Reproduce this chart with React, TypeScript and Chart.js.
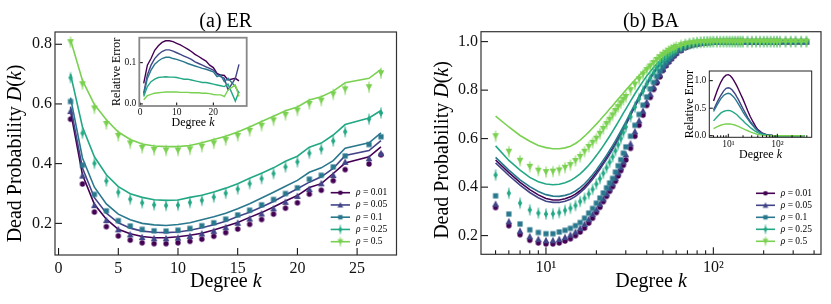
import React, { useEffect, useRef } from 'react';
import { Chart, registerables } from 'chart.js';

Chart.register(...registerables);

const W = 831;
const H = 304;
const SERIF = "'Liberation Serif', 'Times New Roman', serif";

const RHO = ['0.01', '0.05', '0.1', '0.25', '0.5'];
const COLORS = ['#440154', '#414487', '#2a788e', '#22a884', '#7ad151'];
const MARKERS = ['circle', 'triUp', 'square', 'thinDiamond', 'triDown'];

// ---------- (a) ER ----------
const kER = [1, 2, 3, 4, 5, 6, 7, 8, 9, 10, 11, 12, 13, 14, 15, 16, 17, 18, 19, 20, 21, 22, 23, 24, 26, 27];
const erSim01 = [0.549, 0.332, 0.238, 0.189, 0.158, 0.144, 0.135, 0.132, 0.132, 0.135, 0.140, 0.147, 0.157, 0.169, 0.181, 0.197, 0.213, 0.231, 0.251, 0.269, 0.298, 0.311, 0.343, 0.380, 0.399, 0.430];
const erTh01 = [0.576, 0.363, 0.264, 0.214, 0.180, 0.165, 0.156, 0.152, 0.152, 0.155, 0.160, 0.167, 0.178, 0.190, 0.203, 0.220, 0.236, 0.255, 0.275, 0.293, 0.320, 0.333, 0.367, 0.402, 0.423, 0.456];
const erSim05 = [0.576, 0.360, 0.261, 0.211, 0.180, 0.163, 0.154, 0.150, 0.150, 0.152, 0.158, 0.166, 0.175, 0.187, 0.202, 0.216, 0.233, 0.250, 0.272, 0.292, 0.315, 0.334, 0.362, 0.406, 0.418, 0.435];
const erTh05 = [0.591, 0.385, 0.286, 0.234, 0.202, 0.184, 0.174, 0.170, 0.169, 0.171, 0.177, 0.185, 0.195, 0.207, 0.223, 0.237, 0.255, 0.273, 0.295, 0.316, 0.338, 0.356, 0.384, 0.427, 0.444, 0.477];
const erSim1 = [0.608, 0.395, 0.297, 0.242, 0.209, 0.191, 0.180, 0.175, 0.174, 0.177, 0.183, 0.192, 0.202, 0.214, 0.228, 0.244, 0.262, 0.280, 0.300, 0.319, 0.348, 0.361, 0.389, 0.426, 0.464, 0.490];
const erTh1 = [0.621, 0.419, 0.321, 0.265, 0.231, 0.212, 0.200, 0.195, 0.193, 0.196, 0.202, 0.212, 0.222, 0.234, 0.249, 0.266, 0.285, 0.304, 0.324, 0.344, 0.371, 0.386, 0.410, 0.452, 0.470, 0.503];
const erSim25 = [0.688, 0.502, 0.401, 0.342, 0.304, 0.281, 0.269, 0.262, 0.260, 0.261, 0.270, 0.277, 0.288, 0.301, 0.315, 0.333, 0.350, 0.367, 0.389, 0.406, 0.435, 0.449, 0.476, 0.507, 0.549, 0.570];
const erTh25 = [0.700, 0.523, 0.423, 0.363, 0.323, 0.299, 0.287, 0.279, 0.277, 0.278, 0.287, 0.294, 0.305, 0.318, 0.333, 0.351, 0.368, 0.386, 0.408, 0.425, 0.455, 0.469, 0.496, 0.531, 0.553, 0.578];
const erSim5 = [0.807, 0.666, 0.585, 0.533, 0.493, 0.468, 0.453, 0.446, 0.444, 0.444, 0.448, 0.457, 0.468, 0.479, 0.493, 0.510, 0.527, 0.545, 0.563, 0.578, 0.600, 0.611, 0.632, 0.649, 0.656, 0.703];
const erTh5 = [0.815, 0.679, 0.598, 0.547, 0.506, 0.481, 0.466, 0.459, 0.457, 0.457, 0.461, 0.470, 0.481, 0.492, 0.506, 0.523, 0.541, 0.559, 0.577, 0.590, 0.613, 0.624, 0.643, 0.671, 0.686, 0.716];

// ER inset: relative error
const erErr01 = [0.05, 0.094, 0.11, 0.13, 0.141, 0.149, 0.153, 0.153, 0.151, 0.147, 0.143, 0.138, 0.133, 0.127, 0.12, 0.115, 0.109, 0.104, 0.094, 0.088, 0.074, 0.07, 0.069, 0.058, 0.062, 0.056];
const erErr05 = [0.026, 0.07, 0.094, 0.11, 0.12, 0.127, 0.131, 0.131, 0.128, 0.124, 0.12, 0.116, 0.112, 0.108, 0.102, 0.098, 0.094, 0.09, 0.086, 0.082, 0.072, 0.066, 0.062, 0.034, 0.062, 0.096];
const erErr1 = [0.022, 0.062, 0.082, 0.096, 0.104, 0.11, 0.113, 0.113, 0.11, 0.108, 0.105, 0.102, 0.098, 0.095, 0.092, 0.089, 0.086, 0.084, 0.081, 0.078, 0.066, 0.07, 0.054, 0.062, 0.042, 0.026];
const erErr25 = [0.018, 0.042, 0.054, 0.06, 0.064, 0.065, 0.066, 0.065, 0.065, 0.064, 0.062, 0.06, 0.06, 0.058, 0.056, 0.054, 0.052, 0.052, 0.05, 0.048, 0.046, 0.044, 0.042, 0.048, 0.007, 0.03];
const erErr5 = [0.01, 0.02, 0.023, 0.026, 0.027, 0.028, 0.029, 0.029, 0.029, 0.029, 0.028, 0.028, 0.028, 0.027, 0.027, 0.027, 0.026, 0.026, 0.025, 0.023, 0.022, 0.022, 0.018, 0.034, 0.046, 0.018];

// ---------- (b) BA ----------
const kBAHead = [5, 6, 7, 8, 9, 10, 11, 12, 13, 14, 15, 16, 17, 18, 19, 20, 21, 22, 23, 24, 25, 26, 27, 28, 29, 30, 32, 34, 36, 38, 40, 42, 44, 46, 48, 50, 52, 54, 56, 58, 60, 64, 68, 72, 76, 80, 84, 88, 92, 96, 100];
const baSim01 = [0.316, 0.241, 0.204, 0.181, 0.170, 0.166, 0.166, 0.170, 0.178, 0.187, 0.200, 0.215, 0.231, 0.252, 0.272, 0.295, 0.317, 0.340, 0.362, 0.383, 0.402, 0.424, 0.446, 0.468, 0.490, 0.512, 0.56, 0.61, 0.655, 0.697, 0.737, 0.77, 0.803, 0.83, 0.855, 0.881, 0.9, 0.915, 0.928, 0.94, 0.95, 0.963, 0.975, 0.982, 0.987, 0.99, 0.993, 0.995, 0.997, 0.998, 0.999];
const baSim05 = [0.331, 0.259, 0.220, 0.197, 0.186, 0.181, 0.181, 0.186, 0.194, 0.204, 0.216, 0.231, 0.248, 0.268, 0.289, 0.309, 0.331, 0.353, 0.374, 0.395, 0.415, 0.438, 0.46, 0.482, 0.505, 0.535, 0.58, 0.63, 0.675, 0.715, 0.752, 0.785, 0.814, 0.84, 0.865, 0.888, 0.905, 0.92, 0.932, 0.944, 0.955, 0.967, 0.978, 0.985, 0.989, 0.992, 0.994, 0.996, 0.997, 0.998, 0.999];
const baSim1 = [0.364, 0.289, 0.248, 0.224, 0.213, 0.208, 0.208, 0.215, 0.222, 0.230, 0.241, 0.254, 0.272, 0.293, 0.312, 0.334, 0.355, 0.376, 0.397, 0.417, 0.436, 0.462, 0.488, 0.513, 0.54, 0.566, 0.61, 0.655, 0.7, 0.738, 0.772, 0.805, 0.832, 0.857, 0.878, 0.897, 0.913, 0.927, 0.939, 0.95, 0.96, 0.97, 0.98, 0.986, 0.99, 0.993, 0.995, 0.997, 0.998, 0.999, 1];
const baSim25 = [0.45, 0.375, 0.334, 0.306, 0.293, 0.289, 0.290, 0.295, 0.304, 0.313, 0.324, 0.341, 0.354, 0.372, 0.391, 0.413, 0.435, 0.457, 0.48, 0.503, 0.525, 0.55, 0.575, 0.6, 0.625, 0.648, 0.69, 0.73, 0.765, 0.797, 0.826, 0.85, 0.872, 0.892, 0.908, 0.922, 0.934, 0.945, 0.953, 0.962, 0.97, 0.978, 0.985, 0.99, 0.993, 0.995, 0.997, 0.998, 0.999, 0.999, 1];
const baSim5 = [0.61, 0.546, 0.509, 0.484, 0.468, 0.462, 0.464, 0.469, 0.48, 0.491, 0.508, 0.525, 0.546, 0.566, 0.583, 0.60, 0.62, 0.64, 0.66, 0.678, 0.696, 0.714, 0.73, 0.746, 0.76, 0.772, 0.8, 0.823, 0.845, 0.865, 0.883, 0.898, 0.912, 0.925, 0.936, 0.946, 0.954, 0.962, 0.968, 0.974, 0.978, 0.985, 0.99, 0.993, 0.995, 0.997, 0.998, 0.999, 0.999, 1, 1];
const baTh01 = [0.512, 0.46, 0.42, 0.39, 0.368, 0.353, 0.347, 0.347, 0.352, 0.36, 0.371, 0.385, 0.402, 0.42, 0.44, 0.46, 0.48, 0.5, 0.52, 0.54, 0.56, 0.58, 0.6, 0.62, 0.64, 0.66, 0.70, 0.735, 0.768, 0.798, 0.825, 0.85, 0.872, 0.891, 0.908, 0.923, 0.936, 0.947, 0.957, 0.965, 0.972, 0.982, 0.988, 0.992, 0.995, 0.997, 0.998, 0.999, 0.999, 1, 1];
const baTh05 = [0.50, 0.448, 0.408, 0.378, 0.356, 0.342, 0.337, 0.337, 0.342, 0.35, 0.362, 0.377, 0.394, 0.413, 0.433, 0.453, 0.474, 0.495, 0.515, 0.535, 0.556, 0.576, 0.596, 0.616, 0.636, 0.656, 0.696, 0.732, 0.765, 0.795, 0.823, 0.848, 0.87, 0.89, 0.907, 0.922, 0.935, 0.946, 0.956, 0.964, 0.971, 0.981, 0.988, 0.992, 0.995, 0.997, 0.998, 0.999, 0.999, 1, 1];
const baTh1 = [0.523, 0.47, 0.43, 0.402, 0.382, 0.369, 0.363, 0.362, 0.366, 0.373, 0.384, 0.398, 0.414, 0.432, 0.451, 0.471, 0.491, 0.511, 0.531, 0.551, 0.571, 0.591, 0.611, 0.631, 0.65, 0.669, 0.707, 0.742, 0.774, 0.803, 0.829, 0.853, 0.875, 0.894, 0.91, 0.925, 0.938, 0.949, 0.958, 0.966, 0.973, 0.982, 0.989, 0.993, 0.995, 0.997, 0.998, 0.999, 0.999, 1, 1];
const baTh25 = [0.57, 0.51, 0.47, 0.44, 0.422, 0.413, 0.41, 0.412, 0.418, 0.427, 0.44, 0.455, 0.472, 0.49, 0.51, 0.53, 0.55, 0.57, 0.59, 0.61, 0.63, 0.649, 0.668, 0.687, 0.705, 0.722, 0.755, 0.785, 0.812, 0.836, 0.858, 0.877, 0.894, 0.909, 0.922, 0.934, 0.944, 0.953, 0.96, 0.967, 0.973, 0.982, 0.988, 0.992, 0.995, 0.997, 0.998, 0.999, 0.999, 1, 1];
const baTh5 = [0.693, 0.648, 0.613, 0.589, 0.572, 0.563, 0.558, 0.558, 0.562, 0.569, 0.58, 0.594, 0.61, 0.627, 0.644, 0.66, 0.676, 0.692, 0.707, 0.722, 0.736, 0.75, 0.763, 0.776, 0.788, 0.8, 0.822, 0.842, 0.86, 0.876, 0.891, 0.904, 0.916, 0.926, 0.936, 0.944, 0.952, 0.958, 0.964, 0.969, 0.974, 0.982, 0.988, 0.992, 0.995, 0.997, 0.998, 0.999, 0.999, 1, 1];
// high-degree tail, saturated at 1 for every rho
const kBATail = [105, 110, 115, 120, 125, 130, 135, 140, 145, 150, 160, 170, 180, 190, 200, 210, 220, 230, 240, 250, 270, 290, 310, 335, 360];
const baTail = [1, 1, 1, 1, 1, 1, 1, 1, 1, 1, 1, 1, 1, 1, 1, 1, 1, 1, 1, 1, 1, 1, 1, 1, 1];

// BA inset: relative error
const kBAErr = [5, 6, 7, 8, 9, 10, 11, 12, 13, 14, 15, 16, 18, 20, 22, 25, 28, 32, 36, 40, 45, 50, 60, 70, 80, 100, 150, 200, 300, 360];
const baErr01 = [0.63, 0.83, 0.97, 1.06, 1.1, 1.11, 1.09, 1.05, 1.0, 0.95, 0.9, 0.85, 0.75, 0.66, 0.57, 0.45, 0.35, 0.25, 0.17, 0.11, 0.075, 0.045, 0.02, 0.01, 0.005, 0, 0, 0, 0, 0];
const baErr05 = [0.47, 0.62, 0.73, 0.81, 0.86, 0.87, 0.86, 0.83, 0.79, 0.75, 0.7, 0.66, 0.57, 0.49, 0.42, 0.33, 0.26, 0.19, 0.13, 0.09, 0.06, 0.035, 0.015, 0.007, 0.003, 0, 0, 0, 0, 0];
const baErr1 = [0.44, 0.57, 0.67, 0.73, 0.76, 0.77, 0.76, 0.73, 0.7, 0.66, 0.62, 0.58, 0.5, 0.43, 0.37, 0.3, 0.24, 0.18, 0.13, 0.09, 0.06, 0.035, 0.015, 0.007, 0.003, 0, 0, 0, 0, 0];
const baErr25 = [0.27, 0.35, 0.41, 0.44, 0.455, 0.46, 0.455, 0.44, 0.42, 0.4, 0.38, 0.355, 0.31, 0.27, 0.23, 0.19, 0.15, 0.11, 0.08, 0.055, 0.035, 0.022, 0.008, 0.003, 0.001, 0, 0, 0, 0, 0];
const baErr5 = [0.13, 0.165, 0.19, 0.205, 0.213, 0.215, 0.213, 0.207, 0.2, 0.19, 0.18, 0.168, 0.147, 0.127, 0.11, 0.09, 0.07, 0.05, 0.035, 0.025, 0.015, 0.01, 0.004, 0.002, 0.001, 0, 0, 0, 0, 0];

// tick values
const erXTicks = [0, 5, 10, 15, 20, 25];
const erYTicks = [0.2, 0.4, 0.6, 0.8];
const baXTicks = [10, 100];
const baYTicks = [0.2, 0.4, 0.6, 0.8, 1.0];
const logMinor = [5, 6, 7, 8, 9, 20, 30, 40, 50, 60, 70, 80, 90, 200, 300, 400];
const erInsetXTicks = [0, 10, 20];
const erInsetYTicks = [0, 0.1];
const baInsetYTicks = [0, 0.5, 1.0];

// ---------- helpers ----------
function makeMarker(kind: string, color: string, s = 1): HTMLCanvasElement {
  const c = document.createElement('canvas');
  c.width = 14;
  c.height = 14;
  const ctx = c.getContext('2d')!;
  ctx.translate(7, 7);
  ctx.scale(s, s);
  ctx.fillStyle = color;
  ctx.strokeStyle = color;
  ctx.beginPath();
  if (kind === 'circle') ctx.arc(0, 0, 2.7, 0, Math.PI * 2);
  else if (kind === 'triUp') { ctx.moveTo(0, -3.4); ctx.lineTo(3.3, 2.9); ctx.lineTo(-3.3, 2.9); ctx.closePath(); }
  else if (kind === 'square') ctx.rect(-2.6, -2.6, 5.2, 5.2);
  else if (kind === 'thinDiamond') { ctx.moveTo(0, -3.8); ctx.lineTo(2.2, 0); ctx.lineTo(0, 3.8); ctx.lineTo(-2.2, 0); ctx.closePath(); }
  else { ctx.moveTo(0, 3.4); ctx.lineTo(3.3, -2.9); ctx.lineTo(-3.3, -2.9); ctx.closePath(); }
  ctx.fill();
  if (kind === 'thinDiamond' || kind === 'triDown') {
    ctx.lineWidth = 1;
    ctx.beginPath();
    ctx.moveTo(0, -5.5);
    ctx.lineTo(0, 5.5);
    ctx.stroke();
  }
  return c;
}

const xy = (xs: number[], ys: number[]) => xs.map((x, i) => ({ x, y: ys[i] }));

type Part = [string, boolean];

function drawRich(ctx: CanvasRenderingContext2D, parts: Part[], size: number, x: number, y: number, rot: number, align: 'center' | 'left', baseline: CanvasTextBaseline) {
  ctx.save();
  ctx.translate(x, y);
  ctx.rotate(rot);
  ctx.textAlign = 'left';
  ctx.textBaseline = baseline;
  ctx.fillStyle = '#000';
  const fonts = parts.map((p) => `${p[1] ? 'italic ' : ''}${size}px ${SERIF}`);
  const widths = parts.map((p, i) => { ctx.font = fonts[i]; return ctx.measureText(p[0]).width; });
  const total = widths.reduce((a, b) => a + b, 0);
  let cx = align === 'center' ? -total / 2 : 0;
  parts.forEach((p, i) => { ctx.font = fonts[i]; ctx.fillText(p[0], cx, 0); cx += widths[i]; });
  ctx.restore();
}

interface AxisSpec {
  type: 'linear' | 'logarithmic';
  min: number;
  max: number;
  ticks: number[];
  minor?: number[];
  fmt: (v: number) => string;
  font: number;
  pad: number;
}

interface LegendSpec { x: number; len: number; textX: number; y: number; dy: number; font: number }

interface PanelSpec {
  area: { left: number; top: number; right: number; bottom: number };
  outerLeft: number;
  outerBottom: number;
  x: AxisSpec;
  y: AxisSpec;
  datasets: any[];
  frameColor: string;
  frameWidth: number;
  major: number;
  minor: number;
  fill?: string;
  title?: string;
  titleY?: number;
  xTitle: Part[];
  xTitleY: number;
  yTitle: Part[];
  yTitleX: number;
  yTitleShift: number;
  titleSize: number;
  legend?: LegendSpec;
}

const fmt1 = (v: number) => v.toFixed(1);
const fmtInt = (v: number) => String(Math.round(v));
const fmtPow = (v: number) => (v === 10 ? '10¹' : v === 100 ? '10²' : String(v));

function axisOpts(a: AxisSpec, pos: 'bottom' | 'left', size: number) {
  return {
    type: a.type,
    position: pos,
    min: a.min,
    max: a.max,
    bounds: 'data',
    grid: { display: false, drawTicks: false },
    border: { display: false },
    title: { display: false },
    ticks: {
      color: '#111',
      font: { family: SERIF, size: a.font },
      padding: a.pad,
      autoSkip: false,
      maxRotation: 0,
      minRotation: 0,
      callback: (v: any) => a.fmt(Number(v)),
    },
    afterBuildTicks: (s: any) => { s.ticks = a.ticks.map((v) => ({ value: v })); },
    afterFit: (s: any) => { if (pos === 'bottom') s.height = size; else s.width = size; },
  };
}

function decor(spec: PanelSpec, id: string) {
  const legendMarkers = MARKERS.map((m, i) => makeMarker(m, COLORS[i], 0.85));
  return {
    id,
    beforeDraw(chart: any) {
      if (!spec.fill) return;
      const a = chart.chartArea;
      const ctx = chart.ctx;
      ctx.save();
      ctx.fillStyle = spec.fill;
      ctx.fillRect(a.left, a.top, a.right - a.left, a.bottom - a.top);
      ctx.restore();
    },
    afterDraw(chart: any) {
      const ctx: CanvasRenderingContext2D = chart.ctx;
      const a = chart.chartArea;
      const xs = chart.scales.x;
      const ys = chart.scales.y;
      ctx.save();
      ctx.strokeStyle = '#000';
      ctx.lineWidth = 1;
      const tickX = (v: number, len: number) => {
        const px = xs.getPixelForValue(v);
        if (px < a.left - 0.5 || px > a.right + 0.5) return;
        ctx.beginPath();
        ctx.moveTo(px, a.bottom);
        ctx.lineTo(px, a.bottom - len);
        ctx.stroke();
      };
      const tickY = (v: number, len: number) => {
        const py = ys.getPixelForValue(v);
        if (py < a.top - 0.5 || py > a.bottom + 0.5) return;
        ctx.beginPath();
        ctx.moveTo(a.left, py);
        ctx.lineTo(a.left + len, py);
        ctx.stroke();
      };
      spec.x.ticks.forEach((v) => tickX(v, spec.major));
      (spec.x.minor || []).forEach((v) => tickX(v, spec.minor));
      spec.y.ticks.forEach((v) => tickY(v, spec.major));
      (spec.y.minor || []).forEach((v) => tickY(v, spec.minor));
      ctx.strokeStyle = spec.frameColor;
      ctx.lineWidth = spec.frameWidth;
      ctx.strokeRect(a.left, a.top, a.right - a.left, a.bottom - a.top);
      ctx.restore();

      drawRich(ctx, spec.xTitle, spec.titleSize, (a.left + a.right) / 2, spec.xTitleY, 0, 'center', 'alphabetic');
      drawRich(ctx, spec.yTitle, spec.titleSize, spec.yTitleX, (a.top + a.bottom) / 2 + spec.yTitleShift, -Math.PI / 2, 'center', 'alphabetic');
      if (spec.title) {
        drawRich(ctx, [[spec.title, false]], 20, (a.left + a.right) / 2, spec.titleY || 27, 0, 'center', 'alphabetic');
      }
      const lg = spec.legend;
      if (lg) {
        RHO.forEach((r, i) => {
          const y = lg.y + i * lg.dy;
          ctx.save();
          ctx.strokeStyle = COLORS[i];
          ctx.lineWidth = 1.6;
          ctx.beginPath();
          ctx.moveTo(lg.x, y);
          ctx.lineTo(lg.x + lg.len, y);
          ctx.stroke();
          const m = legendMarkers[i];
          ctx.drawImage(m, lg.x + lg.len / 2 - m.width / 2, y - m.height / 2);
          ctx.restore();
          drawRich(ctx, [['ρ', true], [' = ' + r, false]], lg.font, lg.textX, y, 0, 'left', 'middle');
        });
      }
    },
  };
}

function build(canvas: HTMLCanvasElement, spec: PanelSpec, id: string) {
  return new Chart(canvas, {
    type: 'scatter',
    data: { datasets: spec.datasets },
    options: {
      responsive: false,
      animation: false,
      devicePixelRatio: 1,
      events: [],
      layout: {
        padding: {
          left: spec.outerLeft,
          top: spec.area.top,
          right: W - spec.area.right,
          bottom: H - spec.outerBottom,
        },
      },
      plugins: { legend: { display: false }, tooltip: { enabled: false }, title: { display: false } },
      scales: {
        x: axisOpts(spec.x, 'bottom', spec.outerBottom - spec.area.bottom),
        y: axisOpts(spec.y, 'left', spec.area.left - spec.outerLeft),
      },
    } as any,
    plugins: [decor(spec, id)],
  });
}

function mainDatasets(k: number[], sims: number[][], ths: number[][]) {
  const ds: any[] = [];
  sims.forEach((sim, i) => {
    ds.push({
      label: 'sim ρ=' + RHO[i],
      data: xy(k, sim),
      showLine: false,
      pointStyle: makeMarker(MARKERS[i], COLORS[i]),
      pointRadius: 3,
      pointHoverRadius: 3,
      order: 100 - 2 * i,
    });
    ds.push({
      label: 'theory ρ=' + RHO[i],
      data: xy(k, ths[i]),
      showLine: true,
      pointRadius: 0,
      borderColor: COLORS[i],
      borderWidth: 1.6,
      fill: false,
      order: 99 - 2 * i,
    });
  });
  return ds;
}

function insetDatasets(k: number[], errs: number[][]) {
  return errs.map((e, i) => ({
    label: 'err ρ=' + RHO[i],
    data: xy(k, e),
    showLine: true,
    pointRadius: 0,
    borderColor: COLORS[i],
    borderWidth: 1.4,
    fill: false,
    order: 10 - i,
  }));
}

const DEGREE_K: Part[] = [['Degree ', false], ['k', true]];
const DEAD_PROB: Part[] = [['Dead Probability ', false], ['D', true], ['(', false], ['k', true], [')', false]];
const REL_ERR: Part[] = [['Relative Error', false]];

function specs(): PanelSpec[] {
  const kBA = kBAHead.concat(kBATail);
  const erMain: PanelSpec = {
    area: { left: 55, top: 32, right: 396.5, bottom: 255 },
    outerLeft: 0,
    outerBottom: 304,
    x: { type: 'linear', min: -0.3, max: 28.3, ticks: erXTicks, fmt: fmtInt, font: 16, pad: 4 },
    y: { type: 'linear', min: 0.094, max: 0.841, ticks: erYTicks, fmt: fmt1, font: 16, pad: 3 },
    datasets: mainDatasets(kER, [erSim01, erSim05, erSim1, erSim25, erSim5], [erTh01, erTh05, erTh1, erTh25, erTh5]),
    frameColor: '#333',
    frameWidth: 1.2,
    major: 7,
    minor: 4,
    title: '(a) ER',
    titleY: 26.5,
    xTitle: DEGREE_K,
    xTitleY: 287,
    yTitle: DEAD_PROB,
    yTitleX: 21,
    yTitleShift: 10,
    titleSize: 20,
    legend: { x: 330.7, len: 19.3, textX: 356, y: 192.7, dy: 12.25, font: 9.5 },
  };
  const baMain: PanelSpec = {
    area: { left: 481, top: 31.7, right: 821, bottom: 254.3 },
    outerLeft: 420,
    outerBottom: 304,
    x: { type: 'logarithmic', min: 4.09, max: 440, ticks: baXTicks, minor: logMinor, fmt: fmtPow, font: 16, pad: 4 },
    y: { type: 'linear', min: 0.123, max: 1.041, ticks: baYTicks, fmt: fmt1, font: 16, pad: 3 },
    datasets: mainDatasets(
      kBA,
      [baSim01.concat(baTail), baSim05.concat(baTail), baSim1.concat(baTail), baSim25.concat(baTail), baSim5.concat(baTail)],
      [baTh01.concat(baTail), baTh05.concat(baTail), baTh1.concat(baTail), baTh25.concat(baTail), baTh5.concat(baTail)]
    ),
    frameColor: '#333',
    frameWidth: 1.2,
    major: 7,
    minor: 4,
    title: '(b) BA',
    titleY: 26.5,
    xTitle: DEGREE_K,
    xTitleY: 287,
    yTitle: DEAD_PROB,
    yTitleX: 448,
    yTitleShift: 7,
    titleSize: 20,
    legend: { x: 756, len: 19, textX: 780.7, y: 193.3, dy: 12, font: 9.5 },
  };
  const erInset: PanelSpec = {
    area: { left: 139.3, top: 37.7, right: 246.7, bottom: 106 },
    outerLeft: 100,
    outerBottom: 132,
    x: { type: 'linear', min: -0.2, max: 29.1, ticks: erInsetXTicks, fmt: fmtInt, font: 9.5, pad: 1 },
    y: { type: 'linear', min: -0.005, max: 0.1605, ticks: erInsetYTicks, fmt: fmt1, font: 9.5, pad: 3 },
    datasets: insetDatasets(kER, [erErr01, erErr05, erErr1, erErr25, erErr5]),
    frameColor: '#888',
    frameWidth: 1.8,
    major: 3.5,
    minor: 2,
    fill: '#fff',
    xTitle: DEGREE_K,
    xTitleY: 126,
    yTitle: REL_ERR,
    yTitleX: 120,
    yTitleShift: 0,
    titleSize: 12,
  };
  const baInset: PanelSpec = {
    area: { left: 709.3, top: 71, right: 811.7, bottom: 137.3 },
    outerLeft: 670,
    outerBottom: 162,
    x: { type: 'logarithmic', min: 4.095, max: 503, ticks: baXTicks, minor: logMinor, fmt: fmtPow, font: 9.5, pad: 1 },
    y: { type: 'linear', min: -0.029, max: 1.176, ticks: baInsetYTicks, fmt: fmt1, font: 9.5, pad: 3 },
    datasets: insetDatasets(kBAErr, [baErr01, baErr05, baErr1, baErr25, baErr5]),
    frameColor: '#222',
    frameWidth: 1,
    major: 3.5,
    minor: 2,
    fill: '#fff',
    xTitle: DEGREE_K,
    xTitleY: 158,
    yTitle: REL_ERR,
    yTitleX: 693,
    yTitleShift: 0,
    titleSize: 12,
  };
  return [erMain, baMain, erInset, baInset];
}

export default function App() {
  const r0 = useRef<HTMLCanvasElement>(null);
  const r1 = useRef<HTMLCanvasElement>(null);
  const r2 = useRef<HTMLCanvasElement>(null);
  const r3 = useRef<HTMLCanvasElement>(null);
  const refs = [r0, r1, r2, r3];

  useEffect(() => {
    const s = specs();
    const charts = s.map((spec, i) => build(refs[i].current as HTMLCanvasElement, spec, 'decor' + i));
    return () => charts.forEach((c) => c.destroy());
  }, []);

  return (
    <div style={{ position: 'fixed', left: 0, top: 0, width: W, height: H, background: '#fff', overflow: 'hidden' }}>
      {refs.map((r, i) => (
        <canvas
          key={i}
          ref={r}
          width={W}
          height={H}
          style={{ position: 'absolute', left: 0, top: 0, width: W, height: H }}
        />
      ))}
    </div>
  );
}
